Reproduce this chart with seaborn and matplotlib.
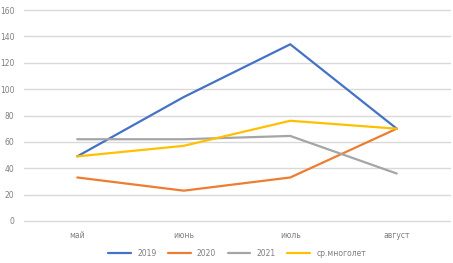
import pandas as pd
import matplotlib
matplotlib.use("Agg")
import matplotlib.pyplot as plt
import seaborn as sns

months = ["май", "июнь", "июль", "август"]
series_names = ["2019", "2020", "2021", "ср.многолет"]
v2019 = [49, 94, 134, 70]
v2020 = [33, 23, 33, 70]
v2021 = [62, 62, 64.5, 36]
vavg = [49, 57, 76, 70]
colors = ["#4472C4", "#ED7D31", "#A5A5A5", "#FFC000"]

rows = []
for name, vals in zip(series_names, [v2019, v2020, v2021, vavg]):
    for i, v in enumerate(vals):
        rows.append({"month": i, "value": v, "series": name})
df = pd.DataFrame(rows)

sns.set_theme(style="white")
plt.rcParams["font.family"] = ["DejaVu Sans"]

fig = plt.figure(figsize=(4.53, 2.63), dpi=100)
ax = fig.add_axes([24 / 453, 1 - 221 / 263, 426 / 453, 211 / 263])

sns.lineplot(data=df, x="month", y="value", hue="series", palette=colors,
             hue_order=series_names, linewidth=1.6, ax=ax, legend=True)

ax.set_xlim(-0.5, 3.5)
ax.set_ylim(0, 160)
ax.set_yticks(range(0, 161, 20))
ax.set_xticks(range(4))
ax.set_xticklabels(months)
ax.yaxis.grid(True, color="#D9D9D9", linewidth=1)
for gl in ax.get_ygridlines():
    gl.set_clip_on(False)
ax.set_axisbelow(True)
for s in ax.spines.values():
    s.set_visible(False)
ax.tick_params(axis="both", length=0, labelsize=5.5, labelcolor="#7F7F7F", pad=7)
ax.set_xlabel("")
ax.set_ylabel("")

handles, labels = ax.get_legend_handles_labels()
ax.legend(handles, labels, loc="upper center", bbox_to_anchor=(0.5, -0.1),
          ncol=4, frameon=False, fontsize=5.5, labelcolor="#7F7F7F",
          handlelength=3, columnspacing=1.5)

fig.savefig("out.png", dpi=100)
